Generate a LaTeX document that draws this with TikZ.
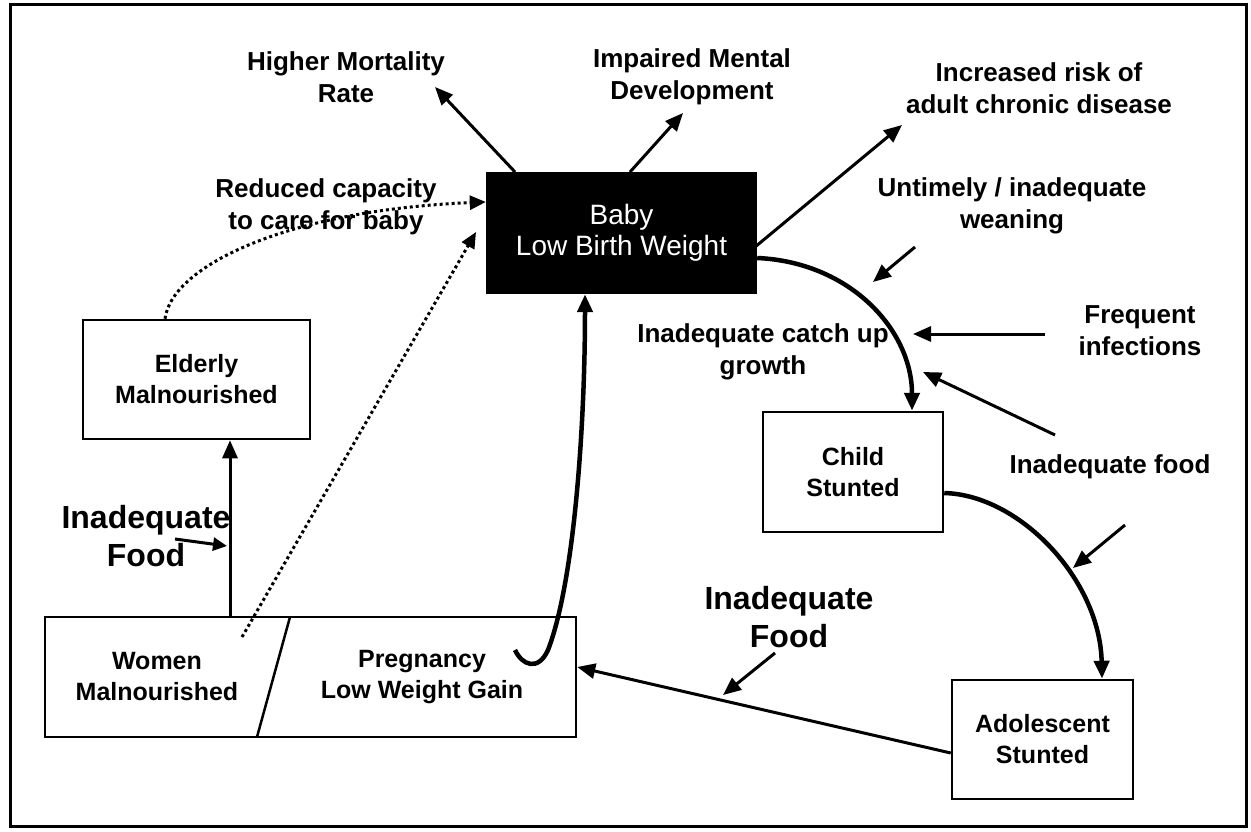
\documentclass[tikz,border=0pt]{standalone}
\usepackage{fontspec}
\setmainfont{Liberation Sans}
\usetikzlibrary{arrows.meta}
\begin{document}
\begin{tikzpicture}[x=1pt,y=-1pt,
  lbl/.style={font=\fontsize{26}{32}\selectfont\bfseries, align=center, inner sep=0pt},
  biglbl/.style={font=\fontsize{32}{38}\selectfont\bfseries, align=center, inner sep=0pt},
  box/.style={draw, line width=2.5pt, font=\fontsize{25}{31}\selectfont\bfseries, align=center, inner sep=0pt},
  boxtext/.style={font=\fontsize{25}{31}\selectfont\bfseries, align=center, inner sep=0pt},
  arr/.style={line width=3pt, -{Triangle[length=18pt,width=15pt]}},
  heavy/.style={line width=4.5pt, -{Triangle[length=18pt,width=15pt]}},
  dots/.style={line width=3pt, dash pattern=on 3pt off 3pt, -{Triangle[length=16pt,width=14pt]}}
]
\useasboundingbox (0,0) rectangle (1251,832);
\fill[white] (0,0) rectangle (1251,832);
% outer frame
\draw[line width=3pt] (10,5) rectangle (1246,826);

% boxes
\node[fill=black, text=white, minimum width=271pt, minimum height=122pt,
      font=\fontsize{28}{31}\selectfont, align=center, inner sep=0pt]
      (baby) at (621.5,233) {Baby\\Low Birth Weight};
\node[box, minimum width=227pt, minimum height=119pt] (elderly) at (196.5,379.5) {Elderly\\Malnourished};
\node[box, minimum width=180pt, minimum height=120pt] (child) at (853,472) {Child\\Stunted};
\node[box, minimum width=181pt, minimum height=119pt] (adol) at (1042.5,739.5) {Adolescent\\Stunted};
\node[box, minimum width=531pt, minimum height=120pt] (wp) at (310.5,677) {};
\draw[line width=2.5pt] (290,617) -- (257,737);
\node[boxtext] (women) at (157,677) {Women\\Malnourished};
\node[boxtext] (preg) at (422,677) {Pregnancy\\Low Weight Gain};

% labels
\node[lbl] (mort) at (346,77) {Higher Mortality\\Rate};
\node[lbl] (mental) at (692,77) {Impaired Mental\\Development};
\node[lbl] (chronic) at (1039,88) {Increased risk of\\adult chronic disease};
\node[lbl] (care) at (326,207) {Reduced capacity\\to care for baby};
\node[lbl] (wean) at (1012,206) {Untimely / inadequate\\weaning};
\node[lbl] (infect) at (1140,331) {Frequent\\infections};
\node[lbl] (catch) at (763,352) {Inadequate catch up\\growth};
\node[lbl] (food) at (1110,467) {Inadequate food};
\node[biglbl] (foodL) at (146,536) {Inadequate\\Food};
\node[biglbl] (foodR) at (789,617) {Inadequate\\Food};

% connector end points
\coordinate (mortA) at (515,172);   \coordinate (mortB) at (435,87);
\coordinate (mentA) at (630,172);   \coordinate (mentB) at (683,113);
\coordinate (chrA) at (755,247);    \coordinate (chrB) at (902,125);
\coordinate (weanA) at (915,247);   \coordinate (weanB) at (873,282);
\coordinate (infA) at (1045,334);   \coordinate (infB) at (913,334);
\coordinate (foodA) at (1055,435);  \coordinate (foodB) at (923,372);
\coordinate (food2A) at (1125,525); \coordinate (food2B) at (1073,568);
\coordinate (foodRA) at (775,653);  \coordinate (foodRB) at (723,695);
\coordinate (foodLA) at (175,539);  \coordinate (foodLB) at (227,546);
\coordinate (hook) at (515,650);

% outcomes of low birth weight
\draw[arr] (mortA) -- (mortB);
\draw[arr] (mentA) -- (mentB);
\draw[arr] (chrA) -- (chrB);

% life cycle
\draw[heavy] (baby.east |- 0,258) .. controls (850,262) and (912,330) .. (child.north -| 912,0);
\draw[heavy] (child.east |- 0,493) .. controls (1020,495) and (1100,580) .. (adol.north -| 1102,0);
\draw[arr] (adol.west |- 0,753) -- (wp.east |- 0,667);
\draw[heavy] (hook) .. controls (522,665) and (538,672) .. (548,650)
  .. controls (575,580) and (585,420) .. (baby.south -| 585,0);
\draw[arr] (wp.north -| 230,0) -- (elderly.south -| 230,0);

% contributing factors
\draw[arr] (weanA) -- (weanB);
\draw[arr] (infA) -- (infB);
\draw[arr] (foodA) -- (foodB);
\draw[arr] (food2A) -- (food2B);
\draw[arr] (foodRA) -- (foodRB);
\draw[line width=3pt, -{Triangle[length=14pt,width=13pt]}] (foodLA) -- (foodLB);

% dotted links to the baby
\draw[dots] (242,637) -- (476,232);
\draw[dots] (elderly.north -| 165,0) .. controls (172,265) and (290,210) .. (baby.west |- 0,202);
\end{tikzpicture}
\end{document}
